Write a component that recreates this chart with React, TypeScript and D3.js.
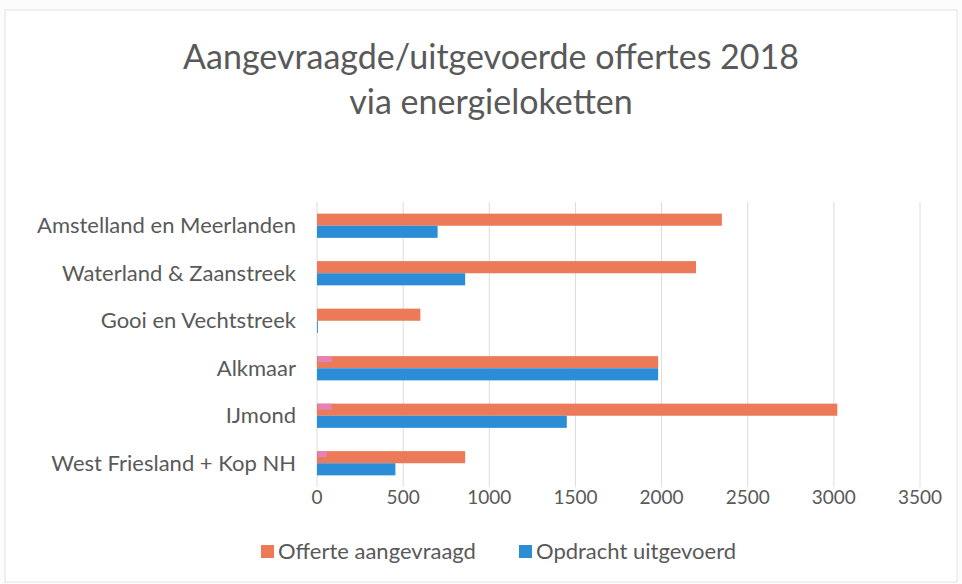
import React, { useEffect, useRef } from 'react';
import * as d3 from 'd3';

const categories = [
  'Amstelland en Meerlanden',
  'Waterland & Zaanstreek',
  'Gooi en Vechtstreek',
  'Alkmaar',
  'IJmond',
  'West Friesland + Kop NH',
];
const offerteAangevraagd = [2350, 2200, 600, 1980, 3020, 860];
const opdrachtUitgevoerd = [700, 860, 5, 1980, 1450, 455];
// faint pink strip visible at the start of some bars in the scan
const overig = [0, 0, 0, 80, 80, 50];
const xTicks = [0, 500, 1000, 1500, 2000, 2500, 3000, 3500];
const seriesNames = ['Offerte aangevraagd', 'Opdracht uitgevoerd'];

const ORANGE = '#EC7A58';
const BLUE = '#2C8DD7';
const PINK = '#E384C6';
const TEXT = '#595959';

const W = 962;
const H = 584;
const margin = { top: 202, right: 42, bottom: 97, left: 317 };

const Chart = () => {
  const ref = useRef<SVGSVGElement>(null);

  useEffect(() => {
    const svg = d3.select(ref.current);
    svg.selectAll('*').remove();

    const font = 'Lato, "Open Sans", sans-serif';

    svg.append('rect').attr('width', W).attr('height', H).attr('fill', '#fcfcfc');
    svg
      .append('rect')
      .attr('x', 5)
      .attr('y', 10)
      .attr('width', W - 10)
      .attr('height', H - 12)
      .attr('fill', '#ffffff')
      .attr('stroke', '#e2e2e2');

    // title
    const title = svg
      .append('text')
      .attr('text-anchor', 'middle')
      .attr('font-family', font)
      .attr('font-size', 34)
      .attr('fill', TEXT);
    title.append('tspan').attr('x', 491).attr('y', 69).text('Aangevraagde/uitgevoerde offertes 2018');
    title.append('tspan').attr('x', 491).attr('y', 114).text('via energieloketten');

    const x = d3.scaleLinear().domain([0, 3500]).range([margin.left, 920]);
    const y = d3
      .scaleBand<string>()
      .domain(categories)
      .range([margin.top, H - margin.bottom])
      .paddingInner(0.49)
      .paddingOuter(0.245);
    const sub = d3.scaleBand<string>().domain(seriesNames).range([0, y.bandwidth()]);

    // gridlines
    svg
      .append('g')
      .selectAll('line')
      .data(xTicks)
      .join('line')
      .attr('x1', (d) => x(d))
      .attr('x2', (d) => x(d))
      .attr('y1', margin.top)
      .attr('y2', H - margin.bottom)
      .attr('stroke', '#dcdcdc')
      .attr('stroke-width', 1);

    // x tick labels
    svg
      .append('g')
      .selectAll('text')
      .data(xTicks)
      .join('text')
      .attr('x', (d) => x(d))
      .attr('y', 504)
      .attr('text-anchor', 'middle')
      .attr('font-family', font)
      .attr('font-size', 19)
      .attr('fill', TEXT)
      .text((d) => String(d));

    // category labels
    svg
      .append('g')
      .selectAll('text')
      .data(categories)
      .join('text')
      .attr('x', 296)
      .attr('y', (d) => (y(d) ?? 0) + y.bandwidth() / 2)
      .attr('dy', '0.35em')
      .attr('text-anchor', 'end')
      .attr('font-family', font)
      .attr('font-size', 22)
      .attr('fill', TEXT)
      .text((d) => d);

    const series = [offerteAangevraagd, opdrachtUitgevoerd];
    const colors = [ORANGE, BLUE];
    series.forEach((vals, si) => {
      svg
        .append('g')
        .selectAll('rect')
        .data(vals)
        .join('rect')
        .attr('x', x(0))
        .attr('y', (_, i) => (y(categories[i]) ?? 0) + (sub(seriesNames[si]) ?? 0))
        .attr('width', (d) => x(d) - x(0))
        .attr('height', sub.bandwidth())
        .attr('fill', colors[si]);
    });

    svg
      .append('g')
      .selectAll('rect')
      .data(overig)
      .join('rect')
      .attr('x', x(0) + 1)
      .attr('y', (_, i) => (y(categories[i]) ?? 0) + (sub(seriesNames[0]) ?? 0))
      .attr('width', (d) => Math.max(0, x(d) - x(0)))
      .attr('height', sub.bandwidth() / 2)
      .attr('fill', PINK)
      .attr('opacity', 0.85);

    // legend
    const legend = [
      { name: seriesNames[0], color: ORANGE, x: 261 },
      { name: seriesNames[1], color: BLUE, x: 519 },
    ];
    const lg = svg.append('g').selectAll('g').data(legend).join('g');
    lg.append('rect')
      .attr('x', (d) => d.x)
      .attr('y', 545)
      .attr('width', 13)
      .attr('height', 13)
      .attr('fill', (d) => d.color);
    lg.append('text')
      .attr('x', (d) => d.x + 17)
      .attr('y', 551)
      .attr('dy', '0.35em')
      .attr('font-family', font)
      .attr('font-size', 22)
      .attr('fill', TEXT)
      .text((d) => d.name);
  }, []);

  return (
    <svg
      ref={ref}
      width={W}
      height={H}
      style={{ position: 'absolute', left: 0, top: 0, display: 'block' }}
    />
  );
};

export default function App() {
  return <Chart />;
}
